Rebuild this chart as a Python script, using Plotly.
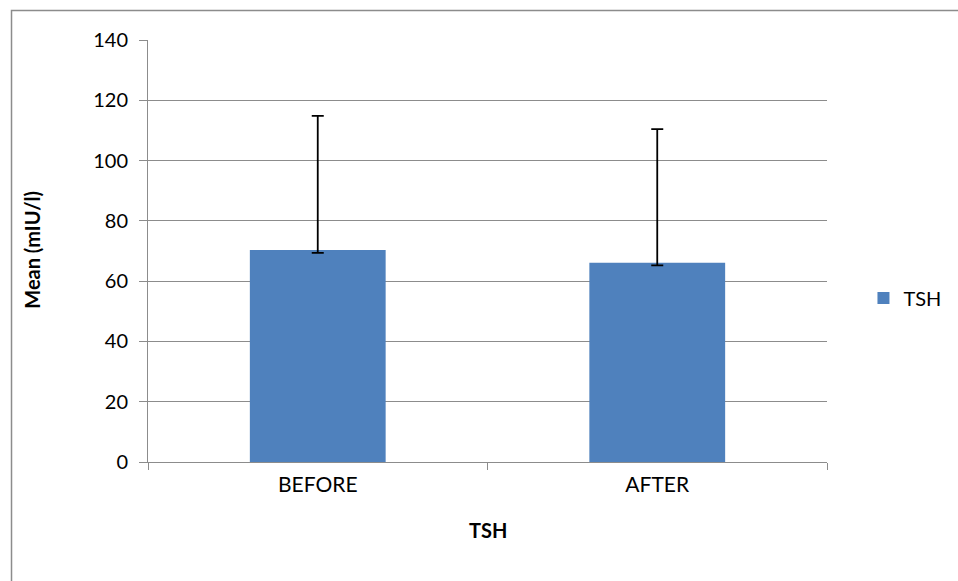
import plotly.graph_objects as go

categories = ["BEFORE", "AFTER"]
means = [70.3, 66.1]
err_plus = [44.5, 44.3]
err_minus = [0.9, 0.9]
series_name = "TSH"
y_ticks = [0, 20, 40, 60, 80, 100, 120, 140]

FONT = "Lato"
GRID = "#8c8c8c"

fig = go.Figure()
fig.add_trace(go.Bar(
    x=categories, y=means, name=series_name,
    marker=dict(color="#4F81BD", line=dict(width=0)),
    error_y=dict(type="data", symmetric=False, array=err_plus, arrayminus=err_minus,
                 color="black", thickness=1.8, width=6),
    showlegend=True,
))

L, R, T, B = 148, 837, 40, 462
W, H = 958, 581

def px(x):
    return (x - L) / (R - L)

def py(y):
    return (B - y) / (B - T)

fig.update_layout(
    width=W, height=H,
    margin=dict(l=L, r=W - R, t=T, b=H - B, pad=0),
    paper_bgcolor="white", plot_bgcolor="white",
    bargap=0.6,
    font=dict(family=FONT, size=20, color="black"),
    legend=dict(x=px(874), y=py(298), xanchor="left", yanchor="middle",
                font=dict(size=20), itemwidth=30, bgcolor="rgba(0,0,0,0)"),
    xaxis=dict(
        showline=True, linecolor=GRID, linewidth=1,
        ticks="outside", tickson="boundaries", ticklen=7, tickcolor=GRID,
        tickfont=dict(size=21), showgrid=False, ticklabelstandoff=4,
    ),
    yaxis=dict(
        range=[0, 140], tickvals=y_ticks, showline=True, linecolor=GRID, linewidth=1,
        ticks="outside", ticklen=8, tickcolor=GRID, showgrid=True, gridcolor=GRID,
        gridwidth=1, tickfont=dict(size=20), zeroline=False, ticklabelstandoff=7,
    ),
    shapes=[dict(type="rect", xref="paper", yref="paper",
                 x0=px(9.5), x1=px(990), y0=py(600), y1=py(10.5),
                 line=dict(color="#8c8c8c", width=1.5), fillcolor="rgba(0,0,0,0)",
                 layer="below")],
    annotations=[
        dict(text="<b>Mean (mIU/l)</b>", xref="paper", yref="paper",
             x=px(30), y=py(250), textangle=-90, showarrow=False,
             font=dict(size=20), xanchor="center", yanchor="middle"),
        dict(text="<b>TSH</b>", xref="paper", yref="paper",
             x=0.5, y=py(530), showarrow=False, font=dict(size=20),
             xanchor="center", yanchor="middle"),
    ],
)

fig.write_html("out.html", config={"displayModeBar": False},
               post_script="document.body.style.margin='0';document.body.style.overflow='hidden';")
